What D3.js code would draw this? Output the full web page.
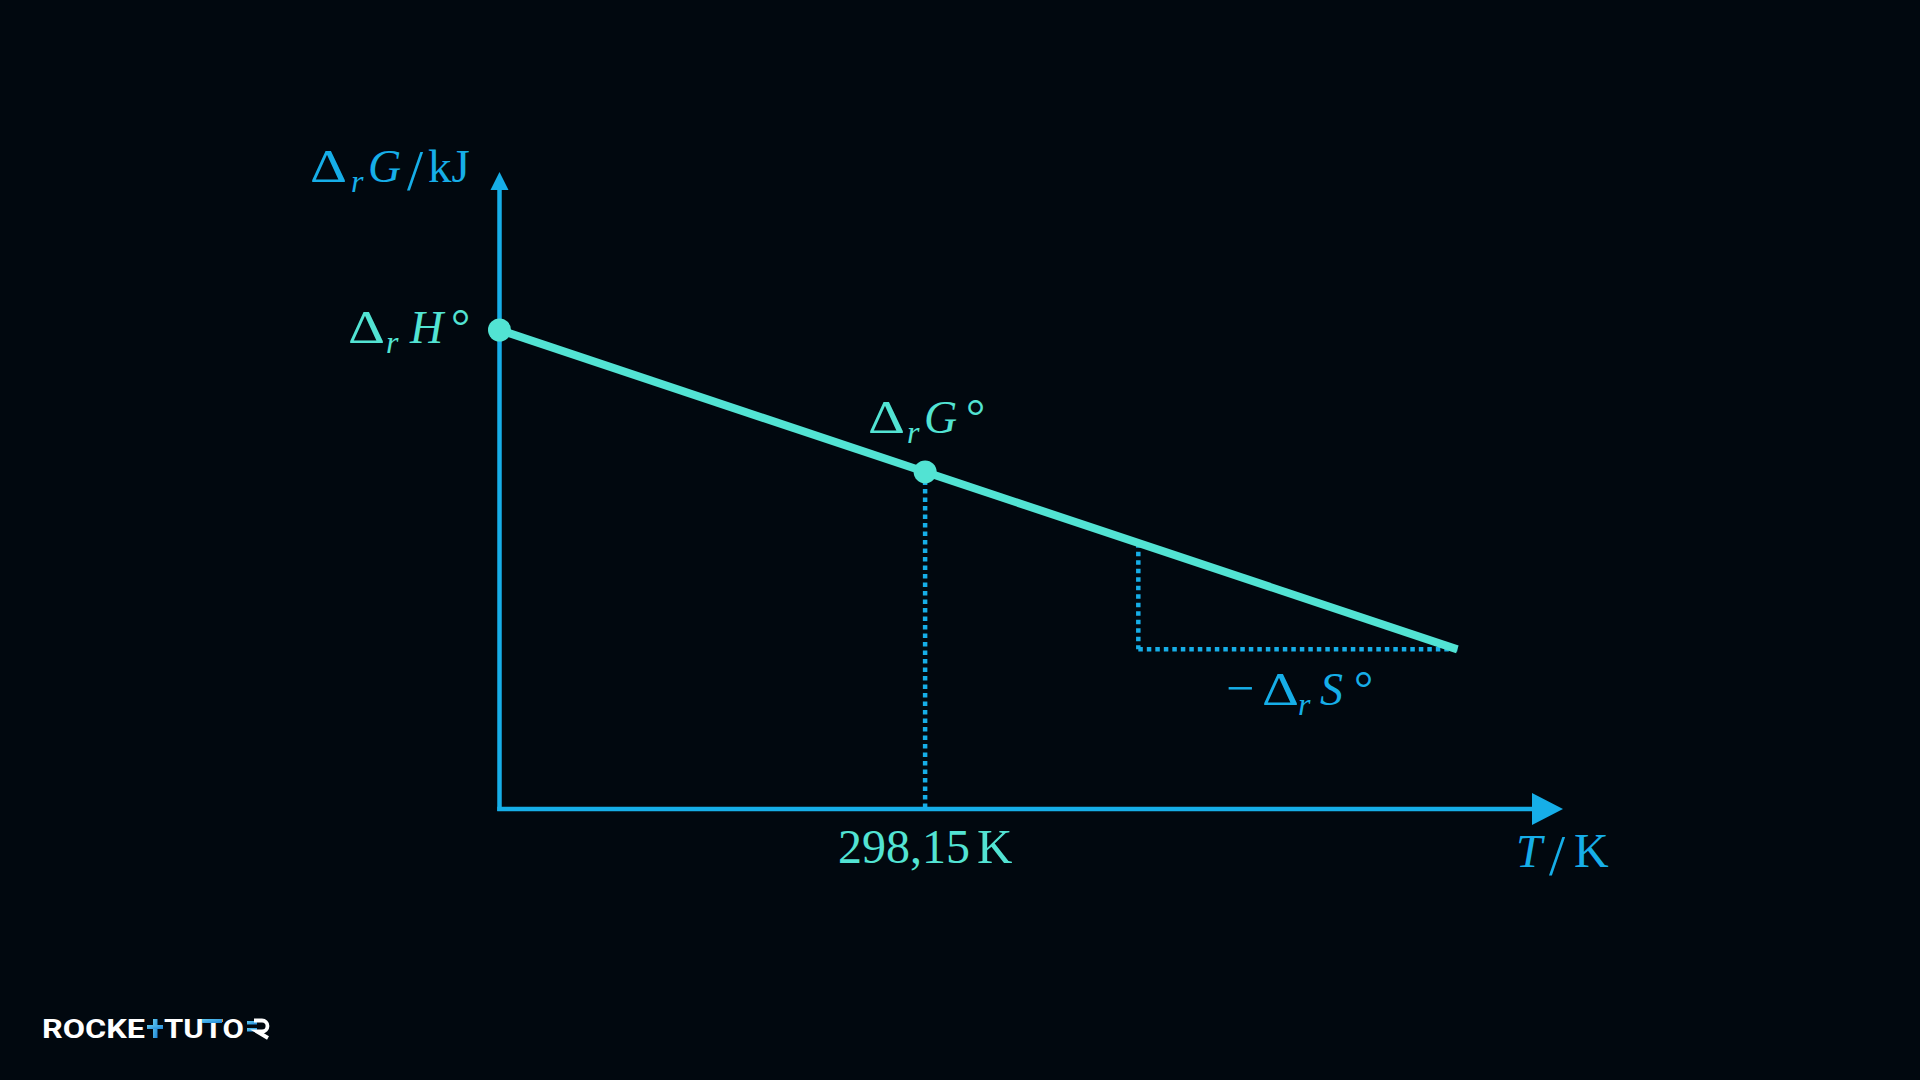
<!DOCTYPE html>
<html><head><meta charset="utf-8">
<script src="https://cdn.jsdelivr.net/npm/d3@7"></script>
<style>html,body{margin:0;padding:0;background:#01080f;}svg{display:block;}</style>
</head><body>
<svg id="c" width="1920" height="1080"></svg>
<script>
// ---- data ----
const lineT = [0, 671];          // T / K (schematic)
const lineG = [120, 40];         // ΔrG / kJ (schematic)
const pointT = [0, 298.15];      // marked points
const pointG = [120, 84.45];
const slopeT = [447.5, 671];     // slope triangle
const slopeG = [66.6, 40];
const xLabel = "298,15";
const axisMax = {T: 745, G: 159.6};

const BLUE = "#16aee8", TEAL = "#52e3d3";
const svg = d3.select("#c");
svg.append("rect").attr("width",1920).attr("height",1080).attr("fill","#01080f");

const x = d3.scaleLinear().domain([0, axisMax.T]).range([499.5, 1563]);
const y = d3.scaleLinear().domain([0, 120]).range([809, 330]);

// axes
svg.append("line").attr("x1",x(0)).attr("x2",x(0)).attr("y1",y(0)+2).attr("y2",y(axisMax.G)+16)
  .attr("stroke",BLUE).attr("stroke-width",4.5);
svg.append("line").attr("x1",x(0)-2.25).attr("x2",x(axisMax.T)-28).attr("y1",y(0)).attr("y2",y(0))
  .attr("stroke",BLUE).attr("stroke-width",4.5);
const xt = x(axisMax.T), yt = y(0);
svg.append("path").attr("d",`M${xt},${yt} L${xt-31},${yt-16} L${xt-31},${yt+16}Z`).attr("fill",BLUE);
const ax = x(0), ay = y(axisMax.G);
svg.append("path").attr("d",`M${ax},${ay} L${ax-9},${ay+18} L${ax+9},${ay+18}Z`).attr("fill",BLUE);

// dotted guides
function dl(x1,y1,x2,y2){return svg.append("line").attr("x1",x1).attr("y1",y1).attr("x2",x2).attr("y2",y2)
  .attr("stroke",BLUE).attr("stroke-width",4.5).attr("stroke-dasharray","4.5 4");}
dl(x(pointT[1]), y(pointG[1]), x(pointT[1]), y(0));
dl(x(slopeT[0]), y(slopeG[0]), x(slopeT[0]), y(slopeG[1]));
dl(x(slopeT[0]), y(slopeG[1]), x(slopeT[1]), y(slopeG[1]));

// main line
const data = lineT.map((t,i)=>({t, g: lineG[i]}));
svg.append("path").datum(data)
  .attr("d", d3.line().x(d=>x(d.t)).y(d=>y(d.g)))
  .attr("stroke",TEAL).attr("stroke-width",8).attr("fill","none");

// points
svg.selectAll("circle.p").data(pointT.map((t,i)=>({t,g:pointG[i]}))).join("circle")
  .attr("cx",d=>x(d.t)).attr("cy",d=>y(d.g)).attr("r",11.5).attr("fill",TEAL);

// math labels, each glyph group placed explicitly
const FONT = "'Liberation Serif','DejaVu Serif',serif";
function piece(px, py, str, color, opt){
  opt = opt || {};
  const size = opt.size || 46;
  const t = svg.append("text").attr("x",px).attr("y",py).attr("fill",color)
    .attr("font-family",FONT).attr("font-size",size).text(str);
  if(opt.it) t.attr("font-style","italic");
  if(opt.sx) t.attr("transform",`translate(${px},0) scale(${opt.sx},1) translate(${-px},0)`);
  return t;
}
function delta(px, py, color){ return piece(px, py, "Δ", color, {sx:1.25}); }
function subr(px, py, color){ return piece(px, py+10, "r", color, {it:1, size:32}); }
function deg(px, py, color){ return piece(px, py, "°", color, {size:48}); }
function slash(px, py, color){ return piece(px, py+8, "/", color, {size:58}); }

// ΔrG/kJ
delta(310,182,BLUE); subr(351,182,BLUE); piece(368,182,"G",BLUE,{it:1});
slash(407,182,BLUE); piece(428,182,"kJ",BLUE,{size:47});
// ΔrH°
delta(348,343,TEAL); subr(386,343,TEAL); piece(410,343,"H",TEAL,{it:1}); deg(451,343,TEAL);
// ΔrG°
delta(868,433,TEAL); subr(907,433,TEAL); piece(924,433,"G",TEAL,{it:1}); deg(966,433,TEAL);
// −ΔrS°
piece(1226,705,"−",BLUE,{size:50}); delta(1262,705,BLUE); subr(1298,705,BLUE);
piece(1320,705,"S",BLUE,{it:1}); deg(1354,705,BLUE);
// 298,15 K
piece(x(pointT[1])-87,863,xLabel,TEAL,{size:48}); piece(x(pointT[1])+52,863,"K",TEAL,{size:49});
// T/K
piece(1516,867,"T",BLUE,{it:1,size:47}); slash(1549,867,BLUE); piece(1574,867,"K",BLUE,{size:48});

// logo
const LF = "Roboto, 'DejaVu Sans', sans-serif";
const grad = svg.append("defs").append("linearGradient").attr("id","lg").attr("x1","0").attr("y1","0").attr("x2","1").attr("y2","1");
grad.append("stop").attr("offset","0").attr("stop-color","#5fc8f0");
grad.append("stop").attr("offset","1").attr("stop-color","#1f86d8");
svg.append("text").attr("x",42).attr("y",1038).attr("font-family",LF).attr("font-weight",700)
  .attr("font-size",26).attr("fill","#fff").attr("textLength",103).attr("lengthAdjust","spacingAndGlyphs").text("ROCKE");
svg.append("rect").attr("x",153).attr("y",1019).attr("width",4.5).attr("height",19).attr("fill","url(#lg)");
svg.append("rect").attr("x",147).attr("y",1025).attr("width",16).attr("height",4).attr("fill","url(#lg)");
svg.append("text").attr("x",164).attr("y",1038).attr("font-family",LF).attr("font-weight",700)
  .attr("font-size",26).attr("fill","#fff").attr("textLength",80).attr("lengthAdjust","spacingAndGlyphs").text("TUTO");
svg.append("rect").attr("x",202).attr("y",1019).attr("width",20).attr("height",4).attr("fill","url(#lg)");
svg.append("rect").attr("x",247).attr("y",1021).attr("width",10).attr("height",3.5).attr("fill","url(#lg)");
svg.append("rect").attr("x",247).attr("y",1028).attr("width",10).attr("height",3.5).attr("fill","url(#lg)");
svg.append("path").attr("d","M254,1020.5 H262 A5.5,5.5 0 0 1 262,1031.5 H257 L268,1038")
  .attr("fill","none").attr("stroke","#fff").attr("stroke-width",3.8);
</script>
</body></html>
